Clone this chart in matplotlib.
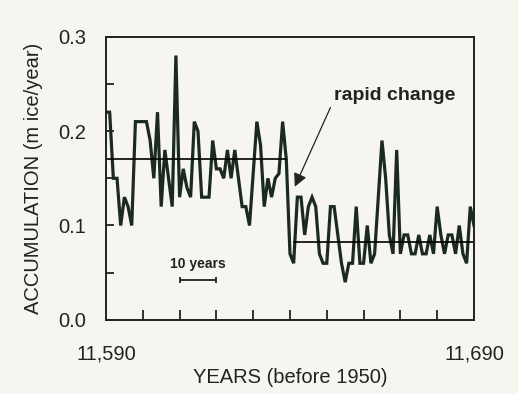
import matplotlib.pyplot as plt
from matplotlib.ticker import FixedLocator, MultipleLocator

# accumulation record (year, m ice/year)
years = [11590, 11591, 11592, 11593, 11594, 11595, 11596, 11597, 11598, 11599,
         11600, 11601, 11602, 11603, 11604, 11605, 11606, 11607, 11608, 11609,
         11610, 11611, 11612, 11613, 11614, 11615, 11616, 11617, 11618, 11619,
         11620, 11621, 11622, 11623, 11624, 11625, 11626, 11627, 11628, 11629,
         11631, 11632, 11633, 11634, 11635, 11636, 11637, 11638, 11639,
         11640, 11641, 11642, 11643, 11644, 11645, 11646, 11647, 11648, 11649,
         11650, 11651, 11652, 11653, 11654, 11655, 11656, 11657, 11658, 11659,
         11660, 11661, 11662, 11663, 11665, 11666, 11667, 11668, 11669,
         11670, 11671, 11672, 11673, 11674, 11675, 11676, 11677, 11678, 11679,
         11680, 11681, 11682, 11683, 11684, 11685, 11686, 11687, 11688, 11689,
         11690]
accum = [0.22, 0.22, 0.15, 0.15, 0.10, 0.13, 0.12, 0.10, 0.21, 0.21,
         0.21, 0.21, 0.19, 0.15, 0.22, 0.12, 0.18, 0.15, 0.12, 0.28,
         0.13, 0.16, 0.14, 0.13, 0.21, 0.20, 0.13, 0.13, 0.13, 0.19,
         0.16, 0.16, 0.15, 0.18, 0.15, 0.18, 0.15, 0.12, 0.12, 0.10,
         0.21, 0.185, 0.12, 0.15, 0.13, 0.15, 0.155, 0.21, 0.17,
         0.07, 0.06, 0.13, 0.13, 0.09, 0.12, 0.13, 0.12, 0.07, 0.06,
         0.06, 0.12, 0.12, 0.09, 0.06, 0.04, 0.06, 0.06, 0.12, 0.06,
         0.06, 0.10, 0.06, 0.07, 0.19, 0.15, 0.09, 0.07, 0.18,
         0.07, 0.09, 0.09, 0.07, 0.07, 0.09, 0.07, 0.07, 0.09, 0.07,
         0.12, 0.09, 0.07, 0.09, 0.09, 0.07, 0.10, 0.07, 0.06, 0.12,
         0.10]

# mean levels before / after the jump
mean_spans = [(11590, 11639), (11641, 11690)]
mean_vals = [0.17, 0.082]

x_labels = ["11,590", "11,690"]

bg = '#f7f5f0'
ink = '#1b2a1f'
plt.rcParams['font.family'] = ['Liberation Sans', 'DejaVu Sans']

fig = plt.figure(figsize=(5.18, 3.94), dpi=100, facecolor=bg)
ax = fig.add_axes([0.2046, 0.188, 0.7104, 0.719], facecolor=bg)

ax.plot(years, accum, color=ink, linewidth=2.3, solid_joinstyle='miter')
for (x0, x1), m in zip(mean_spans, mean_vals):
    ax.plot([x0, x1], [m, m], color='black', linewidth=1.2)

# label plus arrow pointing at the jump
ax.text(11668.5, 0.238, 'rapid change', ha='center', va='center',
        fontsize=14, fontweight='bold', color='#222')
ax.annotate('', xy=(11641.3, 0.141), xytext=(11651, 0.225),
            arrowprops=dict(arrowstyle='-|>', color='#222', lw=0.9,
                            mutation_scale=20, shrinkA=0, shrinkB=0))

# 10-year scale bar
ax.errorbar([11615], [0.042], xerr=5, fmt='none', ecolor='#222',
            elinewidth=1.3, capsize=2.5, capthick=1.3)
ax.text(11615, 0.059, '10 years', ha='center', va='center',
        fontsize=10, fontweight='bold', color='#222')

ax.set_xlim(11590, 11690)
ax.set_ylim(0, 0.3)
ax.xaxis.set_major_locator(FixedLocator([11590, 11690]))
ax.set_xticklabels(x_labels)
ax.xaxis.set_minor_locator(MultipleLocator(10))
ax.yaxis.set_major_locator(MultipleLocator(0.1))
ax.yaxis.set_minor_locator(MultipleLocator(0.05))
ax.yaxis.set_major_formatter(plt.FuncFormatter(lambda v, p: f"{v:.1f}"))

ax.tick_params(axis='both', which='both', direction='in', colors='#222',
               labelsize=14.5, width=1.3)
ax.tick_params(axis='x', which='major', length=0, pad=18)
ax.tick_params(axis='x', which='minor', length=7)
ax.tick_params(axis='y', which='both', length=6, pad=14)
for s in ax.spines.values():
    s.set_linewidth(1.4)
    s.set_color('#222')

ax.set_xlabel('YEARS (before 1950)', fontsize=14.5, color='#222', labelpad=3)
ax.set_ylabel('ACCUMULATION (m ice/year)', fontsize=14.5, color='#222', labelpad=11)

fig.savefig('out.png', dpi=100, facecolor=bg)
